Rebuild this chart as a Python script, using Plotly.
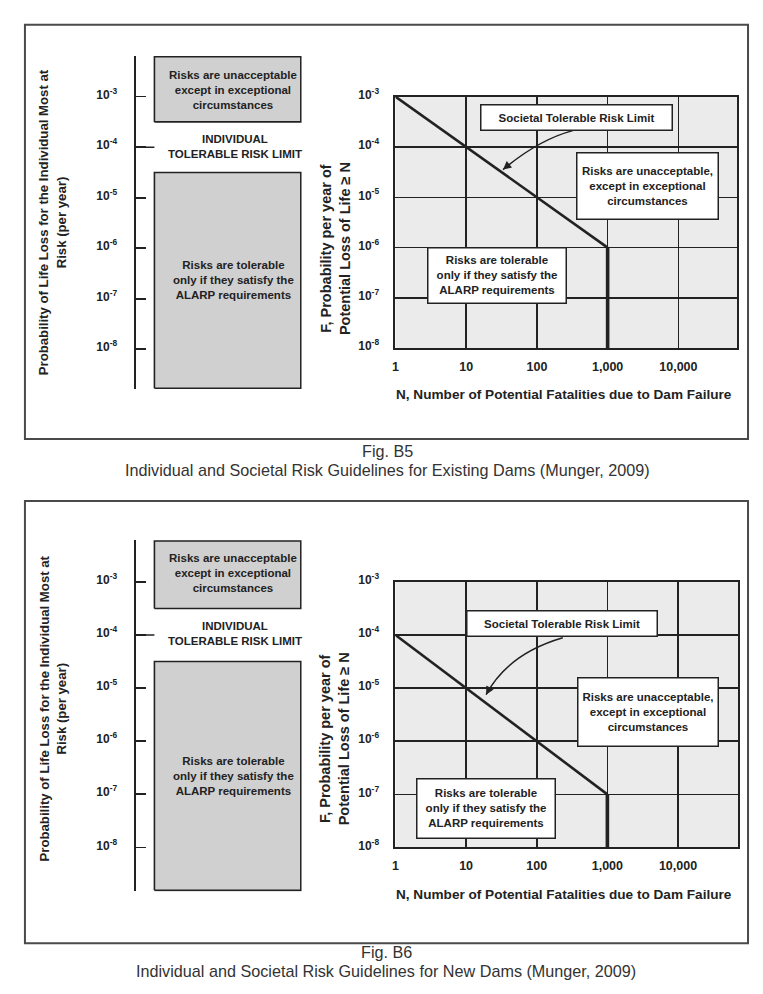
import plotly.graph_objects as go

# page is 763x994; the browser keeps its default 8px body margin,
# so the figure itself is 747x978 and reference pixels are offset by 8
OFF = 8
W, H = 763 - 2 * OFF, 994 - 2 * OFF
# vertical correction measured from the rendered picture
VSCALE, VSHIFT = 0.9852, 8.33

# ---------------- data ----------------
f_tick_vals = [1e-3, 1e-4, 1e-5, 1e-6, 1e-7, 1e-8]
f_tick_text = ["10<sup>-3</sup>", "10<sup>-4</sup>", "10<sup>-5</sup>",
               "10<sup>-6</sup>", "10<sup>-7</sup>", "10<sup>-8</sup>"]
n_tick_vals = [1, 10, 100, 1000, 10000]
n_tick_text = ["1", "10", "100", "1,000", "10,000"]

individual_limit = 1e-4
unacceptable_floor = 10 ** -3.5
tolerable_ceiling = 10 ** -4.5

existing_N = [1, 1000, 1000]
existing_F = [1e-3, 1e-6, 1e-8]
new_N = [1, 1000, 1000]
new_F = [1e-4, 1e-7, 1e-8]

captions = [
    ("Fig. B5", "Individual and Societal Risk Guidelines for Existing Dams (Munger, 2009)"),
    ("Fig. B6", "Individual and Societal Risk Guidelines for New Dams (Munger, 2009)"),
]

# ---------------- helpers ----------------
def px(x):
    return (x - OFF) / W

def page_y(y):
    return (y - VSHIFT) / VSCALE

def py(y):
    return 1 - (page_y(y) - OFF) / H

FONT = "Liberation Sans, Arial, sans-serif"
INK = "#222222"
BOXGRAY = "#d0d0d0"
PLOTGRAY = "#ebebeb"

panels = [
    dict(frame=(22, 22, 748, 437),
         left=dict(x0=134, x1=300, top=53, bot=387, rtop=-2.19, rbot=-8.79),
         right=dict(x0=394, x1=737, top=94, bot=346, xr=4.83),
         N=existing_N, F=existing_F,
         ltitle=(50, 220), rtitle=(334, 246),
         texts=dict(up=(231, 87), ind=(233, 143.5), low=(231, 278)),
         soc=(480, 102, 672, 128), unacc=(576, 150, 718, 216), tol=(426, 246, 565, 301),
         arrow=((572, 128), (538, 137), (502, 167)),
         xtitle=(563, 392), cap=(386, 449, 468)),
    dict(frame=(22, 499, 748, 942),
         left=dict(x0=134, x1=300, top=538, bot=890, rtop=-2.21, rbot=-8.83),
         right=dict(x0=394, x1=738, top=580, bot=846, xr=4.85),
         N=new_N, F=new_F,
         ltitle=(50, 707), rtitle=(333, 737),
         texts=dict(up=(231, 571), ind=(233, 632), low=(231, 774)),
         soc=(466, 609, 657, 635), unacc=(577, 676, 718, 744), tol=(415, 777, 554, 836),
         arrow=((562, 636), (507, 652), (485, 693)),
         xtitle=(563, 893), cap=(385, 951, 970)),
]

fig = go.Figure()
layout = dict(width=W, height=H, margin=dict(l=0, r=0, t=0, b=0),
              paper_bgcolor="white", plot_bgcolor="rgba(0,0,0,0)",
              showlegend=False, font=dict(family=FONT, color=INK))
shapes = []
annotations = []

tickfont = dict(family=FONT, size=12, color=INK, weight="bold")


def note(x, y, text, font, **kw):
    d = dict(x=px(x), y=py(y), xref="paper", yref="paper", text=text,
             showarrow=False, font=font, xanchor="center", yanchor="middle")
    d.update(kw)
    annotations.append(d)


for i, p in enumerate(panels):
    la, ra = p["left"], p["right"]
    xl, yl = 2 * i + 1, 2 * i + 1
    xr_, yr_ = 2 * i + 2, 2 * i + 2
    xl_name = "xaxis" if xl == 1 else f"xaxis{xl}"
    yl_name = "yaxis" if yl == 1 else f"yaxis{yl}"
    xl_ref = "x" if xl == 1 else f"x{xl}"
    yl_ref = "y" if yl == 1 else f"y{yl}"
    xr_ref, yr_ref = f"x{xr_}", f"y{yr_}"

    # ---- left individual-risk axis ----
    layout[xl_name] = dict(domain=[px(la["x0"]), px(la["x1"])], range=[0, 1],
                           visible=False, anchor=yl_ref)
    layout[yl_name] = dict(domain=[py(la["bot"]), py(la["top"])], type="log",
                           range=[la["rbot"], la["rtop"]], anchor=xl_ref,
                           showline=True, linewidth=2, linecolor=INK,
                           ticks="inside", ticklen=10, tickwidth=1.6, tickcolor=INK,
                           tickvals=f_tick_vals, ticktext=f_tick_text,
                           tickfont=tickfont, ticklabelstandoff=15, ticklabelshift=-2,
                           showgrid=False, zeroline=False)
    bx0 = (152 - la["x0"]) / (la["x1"] - la["x0"])
    bx1 = (299 - la["x0"]) / (la["x1"] - la["x0"])
    top_val = 10 ** (la["rtop"] - 0.02)
    bot_val = 10 ** (la["rbot"] + 0.02)
    for (ylo, yhi) in [(unacceptable_floor, top_val), (bot_val, tolerable_ceiling)]:
        fig.add_trace(go.Scatter(x=[bx0, bx1, bx1, bx0, bx0],
                                 y=[ylo, ylo, yhi, yhi, ylo],
                                 mode="lines", fill="toself", fillcolor=BOXGRAY,
                                 line=dict(color=INK, width=1.6),
                                 xaxis=xl_ref, yaxis=yl_ref, hoverinfo="skip"))
    # longer tick at the individual tolerable limit
    shapes.append(dict(type="line", xref="paper", yref=yl_ref,
                       x0=px(la["x0"] - 2), x1=px(152), y0=individual_limit, y1=individual_limit,
                       line=dict(color=INK, width=1.6)))

    # ---- right F-N chart ----
    layout[f"xaxis{xr_}"] = dict(domain=[px(ra["x0"]), px(ra["x1"])], type="log",
                                 range=[0, ra["xr"]], anchor=yr_ref,
                                 showline=True, mirror=True, linewidth=2, linecolor=INK,
                                 showgrid=True, gridcolor=INK, gridwidth=1.6,
                                 tickvals=n_tick_vals, ticktext=n_tick_text, ticks="",
                                 tickfont=dict(family=FONT, size=12.5, color=INK, weight="bold"),
                                 ticklabelstandoff=6, zeroline=False)
    layout[f"yaxis{yr_}"] = dict(domain=[py(ra["bot"]), py(ra["top"])], type="log",
                                 range=[-8, -3], anchor=xr_ref,
                                 showline=True, mirror=True, linewidth=2, linecolor=INK,
                                 showgrid=True, gridcolor=INK, gridwidth=1.6,
                                 tickvals=f_tick_vals, ticktext=f_tick_text, ticks="",
                                 tickfont=tickfont, ticklabelstandoff=12, ticklabelshift=-2,
                                 zeroline=False)
    shapes.append(dict(type="rect", xref=f"{xr_ref} domain", yref=f"{yr_ref} domain",
                       x0=0, x1=1, y0=0, y1=1, fillcolor=PLOTGRAY, line=dict(width=0),
                       layer="below"))
    fig.add_trace(go.Scatter(x=p["N"][:2], y=p["F"][:2], mode="lines",
                             line=dict(color=INK, width=2.6),
                             xaxis=xr_ref, yaxis=yr_ref, hoverinfo="skip"))
    fig.add_trace(go.Scatter(x=p["N"][1:], y=p["F"][1:], mode="lines",
                             line=dict(color=INK, width=3.6),
                             xaxis=xr_ref, yaxis=yr_ref, hoverinfo="skip"))

    # ---- frame ----
    fx0, fy0, fx1, fy1 = p["frame"]
    shapes.append(dict(type="rect", xref="paper", yref="paper",
                       x0=px(fx0), x1=px(fx1), y0=py(fy1), y1=py(fy0),
                       line=dict(color="#4a4a4a", width=2), fillcolor="rgba(0,0,0,0)"))

    # ---- axis titles ----
    note(*p["ltitle"], "Probability of Life Loss for the Individual Most at<br>Risk (per year)",
         dict(family=FONT, size=13.2, color=INK, weight="bold"), textangle=-90)
    note(*p["rtitle"], "F, Probability per year of<br>Potential Loss of Life \u2265 N",
         dict(family=FONT, size=14.5, color=INK, weight="bold"), textangle=-90)
    note(*p["xtitle"], "N, Number of Potential Fatalities due to Dam Failure",
         dict(family=FONT, size=13.6, color=INK, weight="bold"))

    # ---- left panel texts ----
    tf = dict(family=FONT, size=11.5, color=INK, weight="bold")
    t = p["texts"]
    note(*t["up"], "Risks are unacceptable<br>except in exceptional<br>circumstances", tf)
    note(*t["ind"], "INDIVIDUAL<br>TOLERABLE RISK LIMIT", tf)
    note(*t["low"], "Risks are tolerable<br>only if they satisfy the<br>ALARP requirements", tf)

    # ---- right panel boxed texts ----
    for key, txt in [("soc", "Societal Tolerable Risk Limit"),
                     ("unacc", "Risks are unacceptable,<br>except in exceptional<br>circumstances"),
                     ("tol", "Risks are tolerable<br>only if they satisfy the<br>ALARP requirements")]:
        x0, y0, x1, y1 = p[key]
        note((x0 + x1) / 2, (y0 + y1) / 2, txt, tf,
             width=x1 - x0 - 2, height=(y1 - y0) / VSCALE - 2, align="center",
             bgcolor="white", bordercolor=INK, borderwidth=1.5, borderpad=0)

    # ---- curved arrow ----
    (ax0, ay0), (cx, cy), (ax1, ay1) = p["arrow"]
    shapes.append(dict(type="path", xref="paper", yref="paper",
                       path=f"M {px(ax0)},{py(ay0)} Q {px(cx)},{py(cy)} {px(ax1)},{py(ay1)}",
                       line=dict(color=INK, width=1.5)))
    dx, dy = cx - ax1, cy - ay1
    norm = (dx ** 2 + dy ** 2) ** 0.5
    annotations.append(dict(x=px(ax1), y=py(ay1), xref="paper", yref="paper",
                            ax=dx / norm * 10, ay=dy / norm * 10, axref="pixel", ayref="pixel",
                            text="", showarrow=True, arrowhead=2, arrowsize=1.1,
                            arrowwidth=1.5, arrowcolor=INK, standoff=0))

    # ---- captions ----
    cx_, cy1, cy2 = p["cap"]
    cf = dict(family=FONT, size=16.2, color="#333333")
    note(cx_, cy1, captions[i][0], cf)
    note(cx_, cy2, captions[i][1], cf)

layout["shapes"] = shapes
layout["annotations"] = annotations
fig.update_layout(**layout)
fig.write_html("out.html", config={"displayModeBar": False, "staticPlot": True})
